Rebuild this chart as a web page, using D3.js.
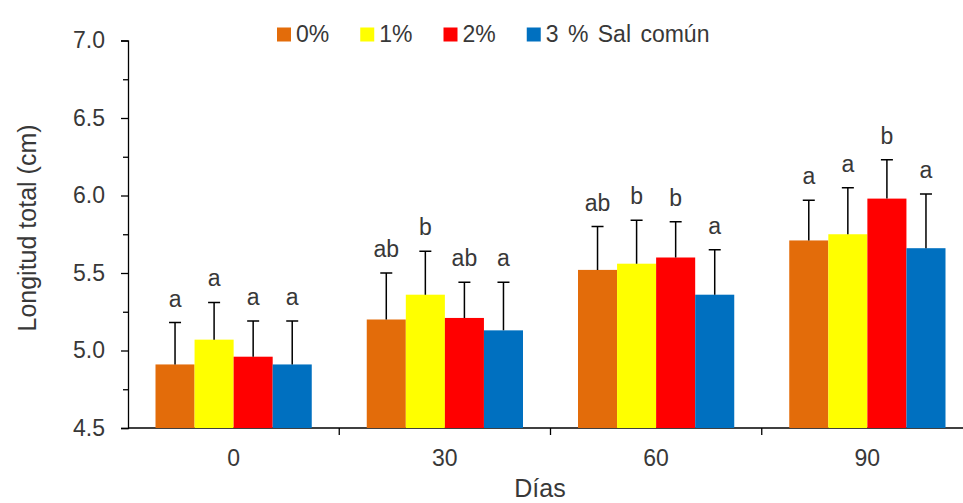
<!DOCTYPE html>
<html lang="es">
<head>
    <meta charset="utf-8">
    <script src="https://d3js.org/d3.v7.min.js"></script>
    <style>
        body { margin: 0; background: #fff; }
        text { font-family: "Liberation Sans", Arial, sans-serif; fill: #383838; }
        .axis path, .axis line { stroke: #000; stroke-width: 1.3; }
    </style>
</head>
<body>
<div id="canvas"></div>
<script>
    // data
    var days = ["0", "30", "60", "90"];
    var series = ["0%", "1%", "2%", "3 % Sal común"];
    var colors = ["#E36C0A", "#FFFF00", "#FF0000", "#0070C0"];
    var means = [
        [4.91, 5.20, 5.52, 5.71],   // 0%
        [5.07, 5.36, 5.56, 5.75],   // 1%
        [4.96, 5.21, 5.60, 5.98],   // 2%
        [4.91, 5.13, 5.36, 5.66]    // 3 %
    ];
    var errTops = [
        [5.18, 5.50, 5.80, 5.97],
        [5.31, 5.64, 5.84, 6.05],
        [5.19, 5.44, 5.83, 6.23],
        [5.19, 5.44, 5.65, 6.01]
    ];
    var letters = [
        ["a", "ab", "ab", "a"],
        ["a", "b", "b", "a"],
        ["a", "ab", "b", "b"],
        ["a", "a", "a", "a"]
    ];
    var yTicks = [4.5, 5.0, 5.5, 6.0, 6.5, 7.0];

    var svg = d3.select("#canvas")
        .append("svg")
        .attr("width", 963)
        .attr("height", 503);

    var x0 = d3.scaleBand().domain(days).range([128, 973]);
    var x1 = d3.scaleBand().domain(series).range([27.5, x0.bandwidth() - 27.5]);
    var y = d3.scaleLinear().domain([4.5, 7.0]).range([428, 40.5]);

    // minor ticks
    svg.append("g")
        .attr("class", "axis")
        .attr("transform", "translate(128,0)")
        .call(d3.axisLeft(y).tickValues(d3.range(4.75, 7, 0.5)).tickSize(5).tickFormat(""))
        .select(".domain").remove();

    svg.append("g")
        .attr("class", "axis axis--y")
        .attr("transform", "translate(128,0)")
        .call(d3.axisLeft(y).tickValues(yTicks).tickSize(7).tickSizeOuter(7).tickFormat(d3.format(".1f")))
        .call(function (g) {
            g.selectAll("text").attr("x", -23).style("font-size", "23px").attr("fill", null);
        });

    // x axis with ticks between categories
    var gx = svg.append("g")
        .attr("class", "axis axis--x")
        .attr("transform", "translate(0,428)");
    gx.append("line").attr("x1", 128).attr("x2", 973);
    gx.selectAll(".sep")
        .data(days.slice(1))
        .enter().append("line")
        .attr("x1", function (d) { return x0(d); })
        .attr("x2", function (d) { return x0(d); })
        .attr("y2", 7);
    gx.selectAll(".lbl")
        .data(days)
        .enter().append("text")
        .attr("x", function (d) { return x0(d) + x0.bandwidth() / 2; })
        .attr("y", 38)
        .attr("text-anchor", "middle")
        .style("font-size", "23px")
        .text(function (d) { return d; });

    // bars
    var groups = svg.selectAll(".serie")
        .data(series)
        .enter().append("g")
        .attr("class", "serie");

    groups.each(function (s, si) {
        var g = d3.select(this);
        var rows = days.map(function (d, di) {
            return { day: d, v: means[si][di], e: errTops[si][di], l: letters[si][di] };
        });
        g.selectAll("rect")
            .data(rows)
            .enter().append("rect")
            .attr("x", function (d) { return x0(d.day) + x1(s); })
            .attr("y", function (d) { return y(d.v); })
            .attr("width", x1.bandwidth())
            .attr("height", function (d) { return y(4.5) - y(d.v); })
            .attr("fill", colors[si]);

        var cx = function (d) { return x0(d.day) + x1(s) + x1.bandwidth() / 2; };
        g.selectAll(".err")
            .data(rows)
            .enter().append("path")
            .attr("d", function (d) {
                return "M" + cx(d) + "," + y(d.v) + "V" + y(d.e) +
                    "M" + (cx(d) - 6) + "," + y(d.e) + "H" + (cx(d) + 6);
            })
            .attr("stroke", "#000")
            .attr("stroke-width", 1.5)
            .attr("fill", "none");

        g.selectAll(".let")
            .data(rows)
            .enter().append("text")
            .attr("x", cx)
            .attr("y", function (d) { return y(d.e) - 16; })
            .attr("text-anchor", "middle")
            .style("font-size", "23px")
            .text(function (d) { return d.l; });
    });

    // legend
    var lx = 277;
    series.forEach(function (s, i) {
        svg.append("rect")
            .attr("x", lx).attr("y", 27.5)
            .attr("width", 14).attr("height", 14)
            .attr("fill", colors[i]);
        var t = svg.append("text")
            .attr("x", lx + 19).attr("y", 41.5)
            .style("font-size", "23px")
            .style("word-spacing", "3px")
            .text(s);
        lx += 19 + t.node().getComputedTextLength() + 31;
    });

    // titles
    svg.append("text")
        .attr("transform", "translate(36,228) rotate(-90)")
        .attr("text-anchor", "middle")
        .style("font-size", "25px")
        .text("Longitud total (cm)");

    svg.append("text")
        .attr("x", 540)
        .attr("y", 497)
        .attr("text-anchor", "middle")
        .style("font-size", "25px")
        .text("Días");
</script>
</body>
</html>
